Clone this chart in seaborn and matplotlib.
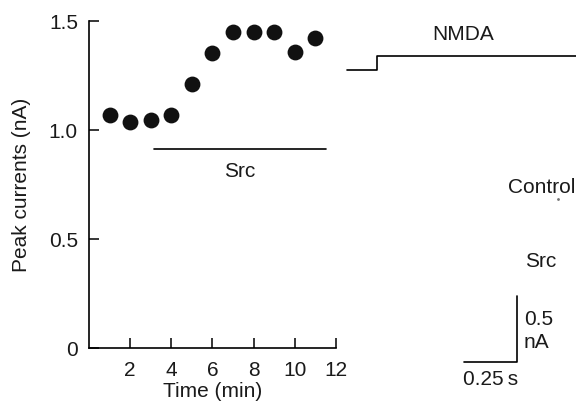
import matplotlib
matplotlib.use("Agg")
import numpy as np
import pandas as pd
import seaborn as sns
from matplotlib import pyplot as plt

# time course of peak NMDA currents
time_min = [1, 2, 3, 4, 5, 6, 7, 8, 9, 10, 11]
peak_na = [1.07, 1.035, 1.045, 1.07, 1.21, 1.355, 1.45, 1.45, 1.45, 1.36, 1.42]
src_start, src_end, src_level = 3.15, 11.5, 0.915

# NMDA application step (s, nA offsets in the trace panel)
step_t = [0.01, 0.15, 0.15, 1.1]
step_i = [2.566, 2.566, 2.674, 2.674]

# scale bars: 0.25 s and 0.5 nA
bar_t0, bar_len_t = 0.56, 0.25
bar_i0, bar_len_i = 0.358, 0.5

FS = 15

sns.set_theme(style="ticks")
plt.rcParams['font.family'] = ['Liberation Sans', 'DejaVu Sans']
plt.rcParams['text.color'] = '#1a1a1a'
plt.rcParams['axes.labelcolor'] = '#1a1a1a'

fig = plt.figure(figsize=(5.76, 4.09), dpi=100)
ax = fig.add_axes([89 / 576, 1 - 348 / 409, 247 / 576, 327 / 409])

df = pd.DataFrame({"t": time_min, "peak": peak_na})
sns.scatterplot(data=df, x="t", y="peak", ax=ax, color="#111111", s=130,
                edgecolor="#111111", linewidth=0, clip_on=False, legend=False)
ax.plot([src_start, src_end], [src_level, src_level], color="black", lw=1.2)
ax.text((src_start + src_end) / 2, 0.786, "Src", ha="center", va="baseline", fontsize=FS)

ax.set_xlim(0, 12)
ax.set_ylim(0, 1.5)
ax.set_xticks([2, 4, 6, 8, 10, 12])
ax.set_yticks([0, 0.5, 1.0, 1.5])
ax.set_yticklabels(["0", "0.5", "1.0", "1.5"])
ax.tick_params(direction="in", length=7.5, width=1.1, labelsize=FS,
               color="black", labelcolor="#1a1a1a")
ax.tick_params(axis="x", pad=9)
ax.tick_params(axis="y", pad=8)
ax.set_xlabel("Time (min)", fontsize=FS, labelpad=2)
ax.set_ylabel("Peak currents (nA)", fontsize=FS, labelpad=13)
sns.despine(ax=ax)
for sp in ("left", "bottom"):
    ax.spines[sp].set_linewidth(1.2)
    ax.spines[sp].set_color("black")

# trace panel
ax2 = fig.add_axes([345 / 576, 0.0, 231 / 576, 1.0])
ax2.set_xlim(0, 231 / 212)
ax2.set_ylim(0, 409 / 132)
ax2.axis("off")
ax2.plot(step_t, step_i, color="black", lw=1.2)
ax2.plot([bar_t0, bar_t0 + bar_len_t, bar_t0 + bar_len_t],
         [bar_i0, bar_i0, bar_i0 + bar_len_i], color="black", lw=1.2)
ax2.plot([1.005], [1.59], marker="o", ms=1.0, color="0.45")


def label(px, py, s, ha="center"):
    fig.text(px / 576, 1 - py / 409, s, ha=ha, va="baseline", fontsize=FS)


label(463, 40, "NMDA")
label(541.5, 193, "Control")
label(541, 267, "Src")
label(524, 325, "0.5", ha="left")
label(524, 348, "nA", ha="left")
label(490.5, 385, "0.25\u2009s")

fig.savefig("out.png", dpi=100)
